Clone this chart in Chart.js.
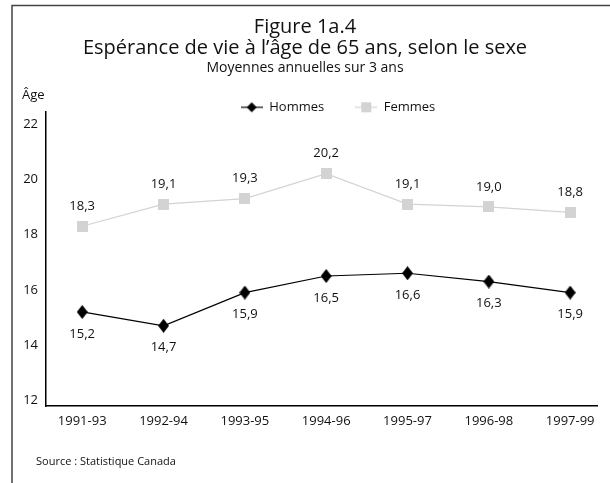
<!DOCTYPE html>
<html>
<head>
<meta charset="utf-8">
<script src="https://cdn.jsdelivr.net/npm/chart.js@4/dist/chart.umd.min.js"></script>
<style>
  html, body { margin: 0; padding: 0; background: #fff; }
  #wrap { width: 610px; height: 483px; }
</style>
</head>
<body>
<div id="wrap"><canvas id="c" width="610" height="483"></canvas></div>
<script>
const categories = ['1991-93', '1992-94', '1993-95', '1994-96', '1995-97', '1996-98', '1997-99'];
const hommes = [15.2, 14.7, 15.9, 16.5, 16.6, 16.3, 15.9];
const femmes = [18.3, 19.1, 19.3, 20.2, 19.1, 19.0, 18.8];
const yTicks = [12, 14, 16, 18, 20, 22];
const titleLines = ['Figure 1a.4', 'Espérance de vie à l’âge de 65 ans, selon le sexe'];
const subtitleText = 'Moyennes annuelles sur 3 ans';
const yAxisTitle = 'Âge';
const sourceText = 'Source : Statistique Canada';

const FONT = "'Open Sans', 'Noto Sans', sans-serif";
const FEM_COLOR = '#d3d3d3';

function makeDiamond(w, h) {
  const c = document.createElement('canvas'); c.width = w; c.height = h;
  const x = c.getContext('2d');
  x.fillStyle = '#000';
  x.beginPath(); x.moveTo(w/2, 0); x.lineTo(w, h/2); x.lineTo(w/2, h); x.lineTo(0, h/2); x.closePath(); x.fill();
  return c;
}
function makeSquare(s, color) {
  const c = document.createElement('canvas'); c.width = s; c.height = s;
  const x = c.getContext('2d'); x.fillStyle = color; x.fillRect(0, 0, s, s);
  return c;
}
function makeLegendIcon(kind) {
  const c = document.createElement('canvas'); c.width = 22; c.height = 12;
  const x = c.getContext('2d');
  x.strokeStyle = kind === 'h' ? '#000' : FEM_COLOR; x.lineWidth = 1.2;
  x.beginPath(); x.moveTo(0, 6); x.lineTo(22, 6); x.stroke();
  if (kind === 'h') {
    x.fillStyle = '#000'; x.beginPath(); x.moveTo(11, 1); x.lineTo(16, 6); x.lineTo(11, 11); x.lineTo(6, 6); x.closePath(); x.fill();
  } else {
    x.fillStyle = FEM_COLOR; x.fillRect(6, 1, 10, 10);
  }
  return c;
}
const diamondImg = makeDiamond(11, 14);
const squareImg = makeSquare(11, FEM_COLOR);
const legendIcons = [makeLegendIcon('h'), makeLegendIcon('f')];

const decorPlugin = {
  id: 'decor',
  afterLayout(chart) {
    const lg = chart.legend;
    if (lg) {
      const dx = 33, dy = -7;
      lg.left += dx; lg.right += dx; lg.top += dy;
      lg.bottom = lg.top + 70;
      if (lg.legendHitBoxes) lg.adjustHitBoxes();
    }
  },
  beforeDraw(chart) {
    const ctx = chart.ctx;
    ctx.save();
    ctx.fillStyle = '#fff'; ctx.fillRect(0, 0, chart.width, chart.height);
    ctx.strokeStyle = '#444'; ctx.lineWidth = 1.5;
    ctx.beginPath(); ctx.moveTo(12, 483); ctx.lineTo(12, 5.5); ctx.lineTo(610, 5.5); ctx.stroke();
    ctx.restore();
  },
  afterDatasetsDraw(chart) {
    const ctx = chart.ctx;
    const area = chart.chartArea;
    ctx.save();
    ctx.font = '13px ' + FONT;
    ctx.fillStyle = '#111';
    ctx.textAlign = 'center'; ctx.textBaseline = 'middle';
    chart.data.datasets.forEach((ds, di) => {
      const meta = chart.getDatasetMeta(di);
      meta.data.forEach((pt, i) => {
        const v = ds.data[i].y;
        const txt = v.toFixed(1).replace('.', ',');
        const y = di === 0 ? pt.y + 22 : pt.y - 20;
        ctx.fillText(txt, pt.x, y);
      });
    });
    ctx.textAlign = 'left';
    ctx.fillText(yAxisTitle, 22, area.top - 17);
    ctx.font = '11px ' + FONT;
    ctx.fillText(sourceText, 36, 462);
    ctx.restore();
  }
};

const chart = new Chart(document.getElementById('c'), {
  type: 'line',
  data: {
    datasets: [
      {
        label: 'Hommes',
        data: hommes.map((v, i) => ({ x: i, y: v })),
        borderColor: '#000', borderWidth: 1.2,
        pointStyle: diamondImg, pointRadius: 7, pointHoverRadius: 7,
        backgroundColor: '#000', tension: 0
      },
      {
        label: 'Femmes',
        data: femmes.map((v, i) => ({ x: i, y: v })),
        borderColor: FEM_COLOR, borderWidth: 1.2,
        pointStyle: squareImg, pointRadius: 6, pointHoverRadius: 6,
        backgroundColor: FEM_COLOR, tension: 0
      }
    ]
  },
  options: {
    responsive: false,
    animation: false,
    events: [],
    layout: { padding: { top: 17, left: 13, right: 13, bottom: 0 } },
    plugins: {
      title: {
        display: true, text: titleLines, color: '#111',
        font: { family: FONT, size: 20, weight: 'normal', lineHeight: 1.05 },
        padding: { top: 0, bottom: 0 }
      },
      subtitle: {
        display: true, text: subtitleText, color: '#111',
        font: { family: FONT, size: 14, weight: 'normal', lineHeight: 1.2 },
        padding: { top: 1, bottom: 0 }
      },
      legend: {
        display: true, position: 'top', maxHeight: 35.2,
        labels: {
          usePointStyle: true, pointStyleWidth: 22, padding: 31, color: '#111',
          font: { family: FONT, size: 13 },
          generateLabels(ch) {
            const items = Chart.defaults.plugins.legend.labels.generateLabels(ch);
            items.forEach((it, i) => { it.pointStyle = legendIcons[i]; });
            return items;
          }
        }
      },
      tooltip: { enabled: false }
    },
    scales: {
      x: {
        type: 'linear', min: -0.445, max: 6.33,
        grid: { display: false, drawTicks: false },
        border: { display: true, color: '#000', width: 1.5 },
        afterBuildTicks(scale) { scale.ticks = categories.map((_, i) => ({ value: i })); },
        afterFit(scale) { scale.height = 77; },
        ticks: {
          padding: 7, color: '#111', autoSkip: false, maxRotation: 0,
          font: { family: FONT, size: 13 },
          callback: (v) => categories[v] ?? ''
        }
      },
      y: {
        type: 'linear', min: 11.8, max: 22.43,
        grid: { display: false, drawTicks: false },
        border: { display: true, color: '#000', width: 1.5 },
        afterBuildTicks(scale) { scale.ticks = yTicks.map(v => ({ value: v })); },
        afterFit(scale) { scale.width = 33; },
        ticks: {
          padding: 8, color: '#111',
          font: { family: FONT, size: 13 }
        }
      }
    }
  },
  plugins: [decorPlugin]
});
</script>
</body>
</html>
